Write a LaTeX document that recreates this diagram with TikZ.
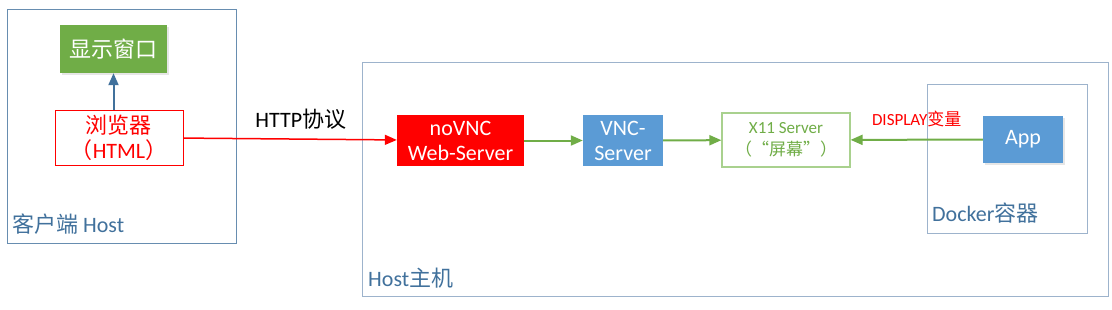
\documentclass[tikz,border=0pt]{standalone}
\usepackage{fontspec}
\setmainfont{Carlito}
\newfontfamily\cjk{Noto Sans CJK SC}
\usetikzlibrary{arrows.meta,positioning,shadows}
\definecolor{frame}{HTML}{41719C}
\definecolor{hostline}{HTML}{9DB3CC}
\definecolor{leaf}{HTML}{70AD47}
\definecolor{paleleaf}{HTML}{A9D18E}
\definecolor{sky}{HTML}{5B9BD5}
\tikzset{box/.style={inner sep=0pt,align=center,text=white,font=\fontsize{22}{25}\selectfont},
area/.style={draw=hostline,line width=1pt,inner sep=0pt},
tag/.style={text=frame,inner sep=0pt,font=\fontsize{22}{25}\selectfont},
soft/.style={drop shadow={shadow xshift=2pt,shadow yshift=-2pt,opacity=0.2,fill=gray}},
arr/.style={-{Triangle[length=12pt,width=10pt]},line width=2pt}}

\begin{document}
\begin{tikzpicture}[x=1pt,y=-1pt]
\useasboundingbox (0,0) rectangle (1112,309);
% client side
\node[area,draw=frame!80,minimum width=229pt,minimum height=234pt] (client) at (121.5,126) {};
\node[tag,anchor=base west] (clientlbl) at (12,232) {{\cjk 客户端} Host};
\node[box,soft,fill=leaf,minimum width=107pt,minimum height=48pt] (win) at (113.5,49) {{\cjk 显示窗口}};
\node[box,draw=red,fill=white,text=red,line width=1pt,minimum width=128pt,minimum height=55pt] (browser) at (119,137.5) {{\cjk 浏览器}\\{\cjk （}HTML{\cjk ）}};
% host side
\node[area,minimum width=746pt,minimum height=234pt] (host) at (735,179) {};
\node[tag,anchor=base west] (hostlbl) at (368,286) {Host{\cjk 主机}};
\node[area,minimum width=160pt,minimum height=149pt] (docker) at (1007,158.5) {};
\node[tag,anchor=base west] (dockerlbl) at (932,221) {Docker{\cjk 容器}};
\node[box,fill=red,minimum width=127pt,minimum height=51pt] (novnc) at (460.5,140.5) {noVNC\\Web-Server};
\node[box,fill=sky,minimum width=80pt,minimum height=51pt] (vnc) at (623,140.5) {VNC-\\Server};
\node[box,draw=paleleaf,fill=white,text=leaf,line width=1.2pt,minimum width=128pt,minimum height=54pt,font=\fontsize{17}{22}\selectfont] (xserver) at (786,140) {X11 Server\\{\cjk （“屏幕”）}};
\node[box,soft,fill=sky,minimum width=80pt,minimum height=47pt] (app) at (1023,139.5) {App};
% connectors
\draw[arr,draw=frame,fill=frame] (browser.north -| win.south) -- (win.south);
\draw[arr,red,line width=1.5pt] (browser) -- node[pos=0.55,above=6pt,text=black,font=\fontsize{22}{25}\selectfont]{HTTP{\cjk 协议}} (novnc);
\draw[arr,leaf] (novnc) -- (vnc);
\draw[arr,leaf] (vnc) -- (xserver);
\draw[arr,leaf] (app) -- node[pos=0.5,above=9pt,text=red,font=\fontsize{17}{20}\selectfont]{DISPLAY{\cjk 变量}} (xserver);
\end{tikzpicture}
\end{document}
